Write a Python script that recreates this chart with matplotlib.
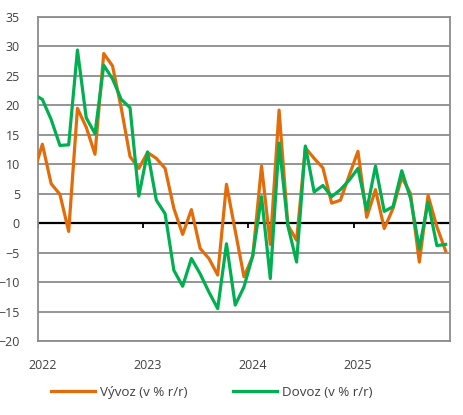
"""
Vývoz a dovoz (v % r/r), měsíčně 12/2021 - 11/2025.
"""
import numpy as np
import matplotlib
matplotlib.use("Agg")
import matplotlib.pyplot as plt

plt.rcParams["font.family"] = ["Open Sans", "DejaVu Sans"]

# Data: prosinec 2021 ... listopad 2025
vyvoz = [8.5, 13.4, 6.7, 4.9, -1.4, 19.5, 16.3, 11.7, 28.8, 26.7, 19.5, 11.3,
         9.3, 12.0, 11.0, 9.3, 2.5, -1.9, 2.3, -4.3, -6.0, -8.8, 6.6, -1.3,
         -9.1, -5.6, 9.7, -3.6, 19.2, -0.3, -2.9, 12.8, 11.0, 9.4, 3.4, 3.9,
         8.1, 12.2, 1.0, 5.7, -0.9, 2.5, 7.8, 5.0, -6.6, 4.7, -0.6, -4.7]
dovoz = [21.9, 21.0, 17.6, 13.2, 13.3, 29.4, 17.9, 15.2, 26.8, 24.5, 21.0, 19.6,
         4.6, 12.1, 3.9, 1.6, -8.0, -10.7, -6.0, -8.6, -11.7, -14.5, -3.5, -13.9,
         -10.8, -5.5, 4.5, -9.4, 13.6, -0.4, -6.6, 13.1, 5.3, 6.4, 4.5, 5.7,
         7.3, 9.3, 2.2, 9.7, 2.0, 2.8, 8.9, 4.2, -4.3, 3.6, -3.8, -3.6]
years = ["2022", "2023", "2024", "2025"]
series_labels = ["Vývoz (v % r/r)", "Dovoz (v % r/r)"]

ORANGE = "#E36C09"
GREEN = "#00B050"
GRID = "#8c8c8c"
TEXT = "#404040"

x = np.arange(len(vyvoz))
jan_pos = [1 + 12 * k for k in range(len(years))]
boundaries = [p - 0.5 for p in jan_pos]

fig = plt.figure(figsize=(4.63, 4.15), dpi=100)
ax = fig.add_axes([38 / 463, 1 - 341 / 415, 412 / 463, 324 / 415])

ax.plot(x, vyvoz, color=ORANGE, lw=2.3, solid_joinstyle="round", label=series_labels[0], zorder=3)
ax.plot(x, dovoz, color=GREEN, lw=2.3, solid_joinstyle="round", label=series_labels[1], zorder=4)

ax.set_xlim(0.5, len(vyvoz) - 0.5)
ax.set_ylim(-20, 35)
ax.set_yticks(np.arange(-20, 36, 5))
ax.yaxis.grid(True, color=GRID, lw=1.3)
ax.set_axisbelow(True)

# nulová osa s dělicími značkami mezi roky
ax.axhline(0, color="black", lw=1.6, zorder=2)
ax.vlines(boundaries, -0.9, 0, color="black", lw=1.3, zorder=2)

ax.set_xticks(jan_pos)
ax.set_xticklabels(years)
ax.tick_params(axis="x", length=0, pad=13, labelsize=9, labelcolor=TEXT)
ax.tick_params(axis="y", length=0, pad=13, labelsize=9, labelcolor=TEXT)

for s in ax.spines.values():
    s.set_color(GRID)
    s.set_linewidth(1.3)

fig.legend(loc="center", bbox_to_anchor=(212 / 463, 1 - 392 / 415), ncol=2,
           frameon=False, fontsize=9.6, handlelength=3.3, handletextpad=0.4,
           columnspacing=3.4, labelcolor=TEXT)

fig.savefig("out.png", dpi=100)
